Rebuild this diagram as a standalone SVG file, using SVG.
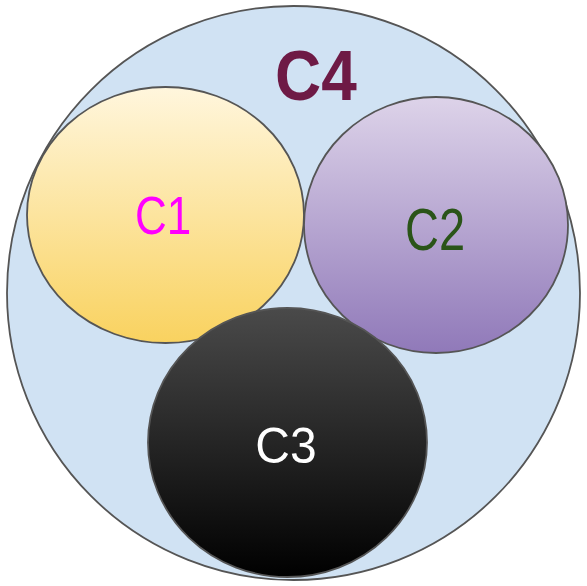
<svg xmlns="http://www.w3.org/2000/svg" width="587" height="586" viewBox="0 0 587 586">
<defs>
<linearGradient id="gC1" x1="0" y1="0" x2="0" y2="1">
<stop offset="0" stop-color="#fff6dd"/>
<stop offset="1" stop-color="#f9d25f"/>
</linearGradient>
<linearGradient id="gC2" x1="0" y1="0" x2="0" y2="1">
<stop offset="0" stop-color="#ddd3e9"/>
<stop offset="1" stop-color="#9079b9"/>
</linearGradient>
<linearGradient id="gC3" x1="0" y1="0" x2="0" y2="1">
<stop offset="0" stop-color="#4a4a4a"/>
<stop offset="1" stop-color="#000000"/>
</linearGradient>
</defs>
<style>
.ring { stroke: #555555; stroke-width: 1.8; }
.lbl { font-family: "Liberation Sans", Arial, sans-serif; text-anchor: middle; }
</style>
<rect width="587" height="586" fill="#ffffff"/>
<g id="C4">
<ellipse class="ring" cx="293.5" cy="293" rx="286.5" ry="287" fill="#d0e2f3"/>
<text class="lbl" transform="translate(316,100) scale(1,1.1)" font-size="64" font-weight="bold" fill="#6e1a45">C4</text>
</g>
<g id="C1">
<ellipse class="ring" cx="165.5" cy="215" rx="138.5" ry="128" fill="url(#gC1)"/>
<text class="lbl" transform="translate(163,234) scale(1,1.2)" font-size="44" fill="#ff00ff">C1</text>
</g>
<g id="C2">
<ellipse class="ring" cx="436" cy="225" rx="132" ry="128" fill="url(#gC2)"/>
<text class="lbl" transform="translate(435,250) scale(1,1.25)" font-size="47" fill="#2a5418">C2</text>
</g>
<g id="C3">
<ellipse class="ring" cx="287.5" cy="442.5" rx="139.5" ry="134.5" fill="url(#gC3)"/>
<text class="lbl" transform="translate(286,463) scale(1,1.05)" font-size="48" fill="#ffffff">C3</text>
</g>
<g id="connectors"></g>
</svg>
